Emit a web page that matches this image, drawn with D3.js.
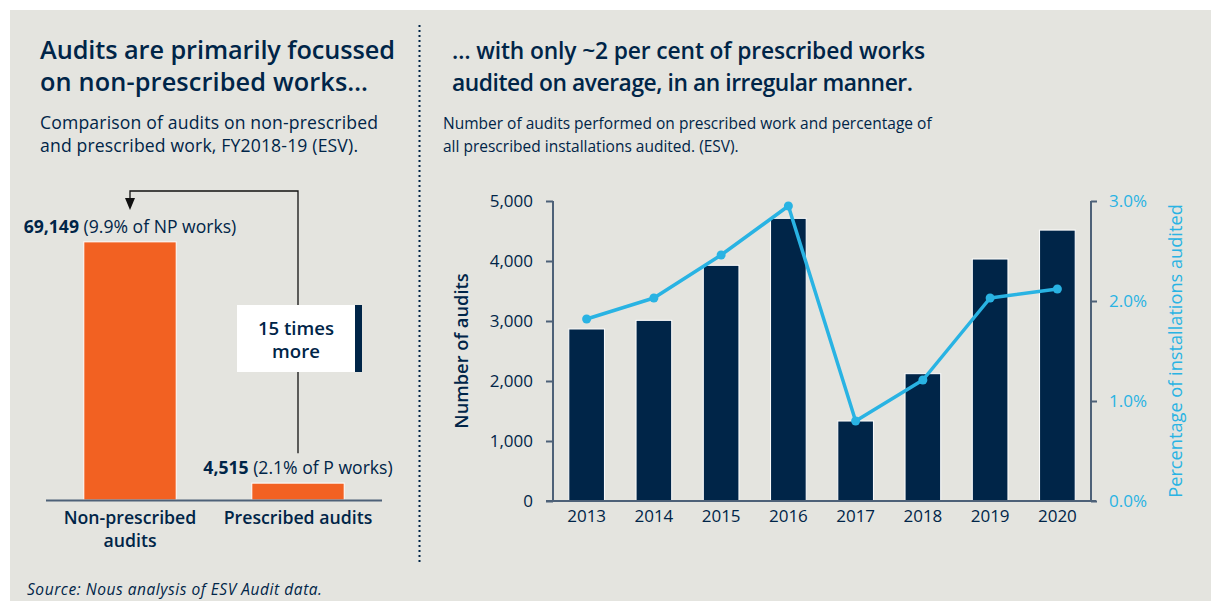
<!DOCTYPE html>
<html>
<head>
<meta charset="utf-8">
<script src="https://cdn.jsdelivr.net/npm/d3@7"></script>
<style>
  html, body { margin: 0; padding: 0; background: #ffffff; }
  svg { display: block; }
  text { font-family: "Open Sans", "Noto Sans", sans-serif; }
</style>
</head>
<body>
<script>
// ---------- Data ----------
const leftCategories = ["Non-prescribed audits", "Prescribed audits"];
const leftValues = [69149, 4515];
const leftValueLabels = ["69,149", "4,515"];
const leftShareLabels = ["(9.9% of NP works)", "(2.1% of P works)"];

const years = ["2013", "2014", "2015", "2016", "2017", "2018", "2019", "2020"];
const auditCounts = [2867, 3011, 3928, 4711, 1333, 2122, 4033, 4515];
const pctAudited = [1.82, 2.03, 2.46, 2.95, 0.80, 1.21, 2.03, 2.12];
const leftTicks = [0, 1000, 2000, 3000, 4000, 5000];
const rightTicks = [0, 1, 2, 3];

// ---------- Styles ----------
const NAVY = "#002548";
const ORANGE = "#f26122";
const CYAN = "#29b3e3";
const BG = "#e4e4df";
const W = 1211, H = 601;

const svg = d3.select("body").append("svg").attr("width", W).attr("height", H);
svg.append("rect").attr("x", 10).attr("y", 10).attr("width", W - 10).attr("height", H - 10).attr("fill", BG);

// dotted divider
svg.append("line").attr("x1", 419.5).attr("x2", 419.5).attr("y1", 25).attr("y2", 563)
  .attr("stroke", NAVY).attr("stroke-width", 2).attr("stroke-dasharray", "2,3");

// ---------- Titles ----------
function lines(x, ys, arr, size, weight, anchor, color, style, widths) {
  arr.forEach((t, i) => {
    const el = svg.append("text").attr("x", x).attr("y", ys[i]).attr("font-size", size)
      .attr("font-weight", weight).attr("fill", color || NAVY)
      .attr("text-anchor", anchor || "start")
      .attr("font-style", style || "normal")
      .text(t);
    if (widths && widths[i]) el.attr("textLength", widths[i]).attr("lengthAdjust", "spacing");
  });
}
lines(40, [59, 91], ["Audits are primarily focussed", "on non-prescribed works…"], 25.3, 600, "start", NAVY, "normal", [355, 328]);
lines(40, [129, 152], ["Comparison of audits on non-prescribed", "and prescribed work, FY2018-19 (ESV)."], 17.6, 400, "start", NAVY, "normal", [338, 318]);
lines(452, [59, 91], ["… with only ~2 per cent of prescribed works", "audited on average, in an irregular manner."], 22.8, 600, "start", NAVY, "normal", [473, 461]);
lines(443, [129, 152], ["Number of audits performed on prescribed work and percentage of", "all prescribed installations audited. (ESV)."], 15.5, 400);

// source
lines(27, [595], ["Source: Nous analysis  of ESV Audit data."], 15.5, 400, "start", NAVY, "italic", [295]);

// ---------- Left chart ----------
const lx = d3.scaleBand().domain(leftCategories).range([46, 382]).paddingInner(0.45).paddingOuter(0.225);
const ly = d3.scaleLinear().domain([0, 75000]).range([500, 220]);

svg.append("g").selectAll("rect").data(leftValues).join("rect")
  .attr("x", (d, i) => lx(leftCategories[i]))
  .attr("width", lx.bandwidth())
  .attr("y", d => ly(d))
  .attr("height", d => ly(0) - ly(d))
  .attr("fill", ORANGE).attr("stroke", "#ffffff").attr("stroke-width", 1);

svg.append("line").attr("x1", 46).attr("x2", 382).attr("y1", 500.5).attr("y2", 500.5)
  .attr("stroke", "#4d6178").attr("stroke-width", 2);

leftValues.forEach((v, i) => {
  const cx = lx(leftCategories[i]) + lx.bandwidth() / 2;
  const t = svg.append("text").attr("x", cx).attr("y", ly(v) - 9)
    .attr("text-anchor", "middle").attr("font-size", 17.6).attr("fill", NAVY);
  t.append("tspan").attr("font-weight", 700).text(leftValueLabels[i]);
  t.append("tspan").attr("font-weight", 400).text(" " + leftShareLabels[i]);
});

// category labels
const catLines = [["Non-prescribed", "audits"], ["Prescribed audits"]];
catLines.forEach((ls, i) => {
  const cx = lx(leftCategories[i]) + lx.bandwidth() / 2;
  ls.forEach((t, j) => {
    svg.append("text").attr("x", cx).attr("y", 524 + j * 23).attr("text-anchor", "middle")
      .attr("font-size", 17.7).attr("font-weight", 600).attr("fill", NAVY).text(t);
  });
});

// arrow connector
const c1 = lx(leftCategories[0]) + lx.bandwidth() / 2;
const c2 = lx(leftCategories[1]) + lx.bandwidth() / 2;
svg.append("path")
  .attr("d", `M${c2},${ly(leftValues[1]) - 30} V191 H${c1} V199`)
  .attr("fill", "none").attr("stroke", "#111").attr("stroke-width", 1.3);
svg.append("path").attr("d", `M${c1 - 5},198 L${c1 + 5},198 L${c1},210 Z`).attr("fill", "#111");

// callout box
svg.append("rect").attr("x", 237).attr("y", 305).attr("width", 118).attr("height", 67).attr("fill", "#ffffff");
svg.append("rect").attr("x", 355).attr("y", 305).attr("width", 7).attr("height", 67).attr("fill", NAVY);
lines(296, [335, 358], ["15 times", "more"], 18.6, 600, "middle");

// ---------- Right chart ----------
const x = d3.scaleBand().domain(years).range([553, 1091]).paddingInner(0.47).paddingOuter(0.235);
const y = d3.scaleLinear().domain([0, 5000]).range([501, 201]);
const y2 = d3.scaleLinear().domain([0, 3]).range([501, 201]);

svg.append("g").selectAll("rect").data(auditCounts).join("rect")
  .attr("x", (d, i) => x(years[i]))
  .attr("width", x.bandwidth())
  .attr("y", d => y(d))
  .attr("height", d => y(0) - y(d))
  .attr("fill", NAVY).attr("stroke", "#ffffff").attr("stroke-width", 1);

// left axis
const gL = svg.append("g").attr("transform", "translate(553,0)")
  .call(d3.axisLeft(y).tickValues(leftTicks).tickFormat(d3.format(",")).tickSize(7).tickPadding(13));
gL.select(".domain").attr("stroke", "#4d6178").attr("stroke-width", 2).attr("d", "M0,201V501");
gL.selectAll(".tick line").attr("stroke", "#4d6178").attr("stroke-width", 2);
gL.selectAll(".tick text").attr("font-size", 17).attr("fill", NAVY).attr("font-family", "Open Sans");

// right axis
const gR = svg.append("g").attr("transform", "translate(1091,0)")
  .call(d3.axisRight(y2).tickValues(rightTicks).tickFormat(d => d.toFixed(1) + "%").tickSize(6).tickPadding(12));
gR.select(".domain").attr("stroke", "#4d6178").attr("stroke-width", 2).attr("d", "M0,201V501");
gR.selectAll(".tick line").attr("stroke", "#4d6178").attr("stroke-width", 2);
gR.selectAll(".tick text").attr("font-size", 17).attr("fill", CYAN).attr("font-family", "Open Sans");

// bottom axis
const gB = svg.append("g").attr("transform", "translate(0,501)")
  .call(d3.axisBottom(x).tickSize(0).tickPadding(9));
gB.select(".domain").attr("stroke", "#4d6178").attr("stroke-width", 2).attr("d", "M546,0H1096");
gB.selectAll(".tick text").attr("font-size", 17).attr("fill", NAVY).attr("font-family", "Open Sans");

// line series
const line = d3.line().x((d, i) => x(years[i]) + x.bandwidth() / 2).y(d => y2(d));
svg.append("path").datum(pctAudited).attr("d", line).attr("fill", "none")
  .attr("stroke", CYAN).attr("stroke-width", 3.5).attr("stroke-linejoin", "round");
svg.append("g").selectAll("circle").data(pctAudited).join("circle")
  .attr("cx", (d, i) => x(years[i]) + x.bandwidth() / 2).attr("cy", d => y2(d))
  .attr("r", 4.5).attr("fill", CYAN);

// axis titles
svg.append("text").attr("transform", "translate(468,351) rotate(-90)").attr("text-anchor", "middle")
  .attr("font-size", 18.3).attr("font-weight", 600).attr("fill", NAVY).text("Number of audits");
svg.append("text").attr("transform", "translate(1182,351) rotate(-90)").attr("text-anchor", "middle")
  .attr("font-size", 18.2).attr("font-weight", 400).attr("fill", CYAN).text("Percentage of installations audited");
</script>
</body>
</html>
